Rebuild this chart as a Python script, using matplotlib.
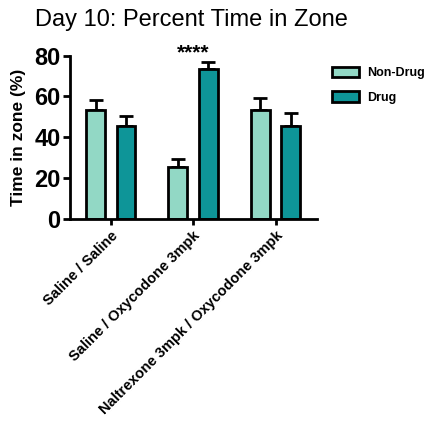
import matplotlib
matplotlib.use("Agg")
import matplotlib.pyplot as plt
import numpy as np

plt.rcParams['font.family'] = ['Liberation Sans', 'DejaVu Sans']

groups = ["Saline / Saline", "Saline / Oxycodone 3mpk", "Naltrexone 3mpk / Oxycodone 3mpk"]
series_names = ["Non-Drug", "Drug"]
non_drug = [53.4, 25.6, 53.2]
non_drug_err = [5.0, 3.8, 6.0]
drug = [45.6, 73.2, 45.3]
drug_err = [5.0, 3.5, 6.4]
colors = ["#92d8c5", "#0e9598"]
annot = "****"

fig = plt.figure(figsize=(4.24, 4.21), dpi=100)
ax = fig.add_axes([0.166, 0.480, 0.581, 0.388])

x = np.arange(len(groups))
w = 0.23
off = 0.185
for vals, errs, col, name, o in [(non_drug, non_drug_err, colors[0], series_names[0], -off),
                                  (drug, drug_err, colors[1], series_names[1], off)]:
    ax.bar(x + o, vals, width=w, color=col, edgecolor="black", linewidth=2, label=name, zorder=2)
    ax.errorbar(x + o, vals, yerr=[np.zeros(len(vals)), errs], fmt="none", ecolor="black",
                elinewidth=2, capsize=5, capthick=2, zorder=1)

ax.set_xlim(-0.49, 2.5)
ax.set_ylim(0, 80)
ax.set_yticks([0, 20, 40, 60, 80])
ax.set_xticks(x)
ax.set_xticklabels(groups, rotation=45, ha="right", rotation_mode="anchor",
                   fontsize=10.5, fontweight="bold")
for lbl in ax.get_yticklabels():
    lbl.set_fontsize(17)
    lbl.set_fontweight("bold")
ax.tick_params(axis="y", width=2, length=5, pad=2)
ax.tick_params(axis="x", width=2, length=4, pad=3)
for s in ["top", "right"]:
    ax.spines[s].set_visible(False)
for s in ["left", "bottom"]:
    ax.spines[s].set_linewidth(2)
ax.set_ylabel("Time in zone (%)", fontsize=12.5, fontweight="bold", labelpad=6)

ax.text(x[1], 81.5, annot, ha="center", va="center", fontsize=15, fontweight="bold",
        clip_on=False)

fig.text(0.452, 0.952, "Day 10: Percent Time in Zone", ha="center", va="center", fontsize=17)

leg = ax.legend(loc="upper left", bbox_to_anchor=(1.015, 1.0), frameon=False,
                prop={"size": 9, "weight": "bold"}, handlelength=2.2, handleheight=0.9,
                labelspacing=0.95, handletextpad=0.6)

fig.savefig("out.png", dpi=100)
